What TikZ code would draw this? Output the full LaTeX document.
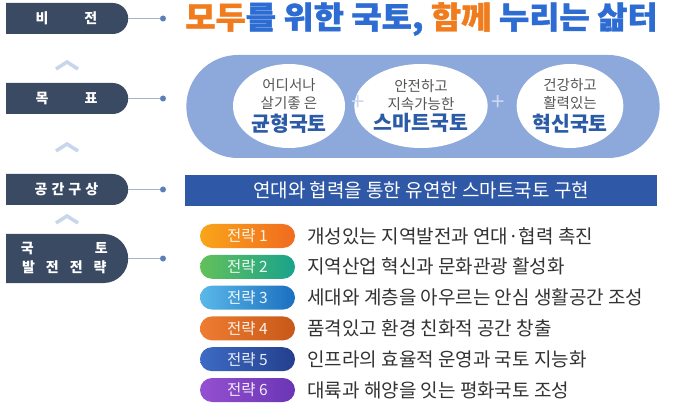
\documentclass[tikz,border=0pt]{standalone}
\usepackage{fontspec}
\newfontfamily\cjk{Noto Sans CJK KR}
\newfontfamily\cjkheavy[FakeBold=1.2]{Noto Sans CJK KR}
\usetikzlibrary{scopes,positioning,shapes.misc,shapes.geometric}
\definecolor{labeldark}{HTML}{3B4A63}
\definecolor{dotblue}{HTML}{5B7FB8}
\definecolor{linkgray}{HTML}{A3B6CF}
\definecolor{chevblue}{HTML}{C7D6EA}
\definecolor{pillblue}{HTML}{8DA9DB}
\definecolor{goalgray}{HTML}{555555}
\definecolor{goalblue}{HTML}{2B5AA6}
\definecolor{bannerblue}{HTML}{2F58A6}
\definecolor{titleblue}{HTML}{2D6CD3}
\definecolor{titleorange}{HTML}{F07C1E}
\definecolor{itemgray}{HTML}{333333}
\newcommand\goaltitle[1]{{\bfseries\fontsize{20.5}{20.5}\selectfont\color{goalblue}#1}}

\begin{document}
\begin{tikzpicture}[x=1pt,y=-1pt,
    lbl/.style={rounded rectangle,rounded rectangle west arc=none,fill=labeldark,text=white,
        font=\cjk\bfseries\fontsize{14}{19}\selectfont,minimum width=122pt,minimum height=31pt,
        inner sep=0pt,align=center,anchor=west},
    dot/.style={circle,fill=dotblue,inner sep=0pt,minimum size=6pt},
    link/.style={draw=linkgray,line width=1pt},
    chev/.style={draw=chevblue,line width=3.5pt},
    goal/.style={ellipse,fill=white,inner sep=0pt,align=center,text=goalgray,
        font=\cjk\fontsize{14.5}{18}\selectfont},
    plus/.style={text=white!55!pillblue,font=\cjk\fontsize{24}{24}\selectfont},
    plan/.style={rounded rectangle,minimum width=95pt,minimum height=24pt,inner sep=0pt,
        text=white,text opacity=0.9,font=\cjk\fontsize{15.5}{15.5}\selectfont},
    item/.style={inner sep=0pt,text=itemgray,font=\cjk\fontsize{19}{19}\selectfont},
]
    \useasboundingbox[fill=white] (0,0) rectangle (680,414);

    % left column
    \node[lbl] (vision) at (6,18.5) {비\hspace{36pt}전};
    \node[lbl] (goal) at (6,98.5) {목\hspace{36pt}표};
    \node[lbl] (space) at (6,189.5) {공\hspace{4pt}간\hspace{4pt}구\hspace{4pt}상};
    \node[lbl,minimum height=49pt] (plan) at (6,258.5) {국\hspace{61pt}토\\발\hspace{11pt}전\hspace{11pt}전\hspace{11pt}략};
    {[chev]
        \draw (56,69) -- (67,62) -- (78,69);
        \draw (56,151) -- (67,144) -- (78,151);
        \draw (56,223) -- (67,216) -- (78,223);
    }
    \foreach \n/\y in {vision/18.5,goal/98.5,space/189.5,plan/258.5} {
        \node[dot] (d-\n) at (163,\y) {};
        \draw[link] (\n.east) -- (d-\n);
    }

    % vision
    \node[font=\cjkheavy\bfseries\fontsize{31}{31}\selectfont,text=titleblue] (title) at (421.5,19)
        {\scalebox{1.06}[1]{\textcolor{titleorange}{모두}를 위한 국토, \textcolor{titleorange}{함께} 누리는 삶터}};

    % goals
    \node[rounded rectangle,fill=pillblue,minimum width=480pt,minimum height=103pt] (goals) at (423,106.5) {};
    \node[goal,minimum width=112pt,minimum height=84pt] (g1) at (289,106)
        {어디서나\\살기좋 은\\[2.5pt]\goaltitle{균형국토}};
    \node[goal,minimum width=98pt,minimum height=84pt] (g2) at (421,106)
        {안전하고\\지속가능한\\[2.5pt]\goaltitle{스마트국토}};
    \node[goal,minimum width=96pt,minimum height=84pt] (g3) at (570,106)
        {건강하고\\활력있는\\[2.5pt]\goaltitle{혁신국토}};
    \node[plus] (p1) at (358,103) {+};
    \node[plus] (p2) at (498,103) {+};

    % spatial concept
    \node[fill=bannerblue,minimum width=472pt,minimum height=31pt,inner sep=0pt,text=white,
        font=\cjk\fontsize{19}{19}\selectfont] (banner) at (421,190.5)
        {연대와 협력을 통한 유연한 스마트국토 구현};

    % strategies
    \foreach \i/\lc/\rc/\txt in {
        1/F9A51A/F06B1F/개성있는 지역발전과 연대·협력 촉진,
        2/63C05A/19A38C/지역산업 혁신과 문화관광 활성화,
        3/5AB8E8/1B6FC0/세대와 계층을 아우르는 안심 생활공간 조성,
        4/EE7D31/C75818/품격있고 환경 친화적 공간 창출,
        5/3D6BC4/243F8C/인프라의 효율적 운영과 국토 지능화,
        6/9450D0/6A35B5/대륙과 해양을 잇는 평화국토 조성} {
        \definecolor{lc}{HTML}{\lc}
        \definecolor{rc}{HTML}{\rc}
        \node[plan,left color=lc,right color=rc] (s\i) at (247.5,{236+30.8*(\i-1)}) {전략 \i};
        \node[item,right=12pt of s\i] (t\i) {\txt};
    }
\end{tikzpicture}
\end{document}
